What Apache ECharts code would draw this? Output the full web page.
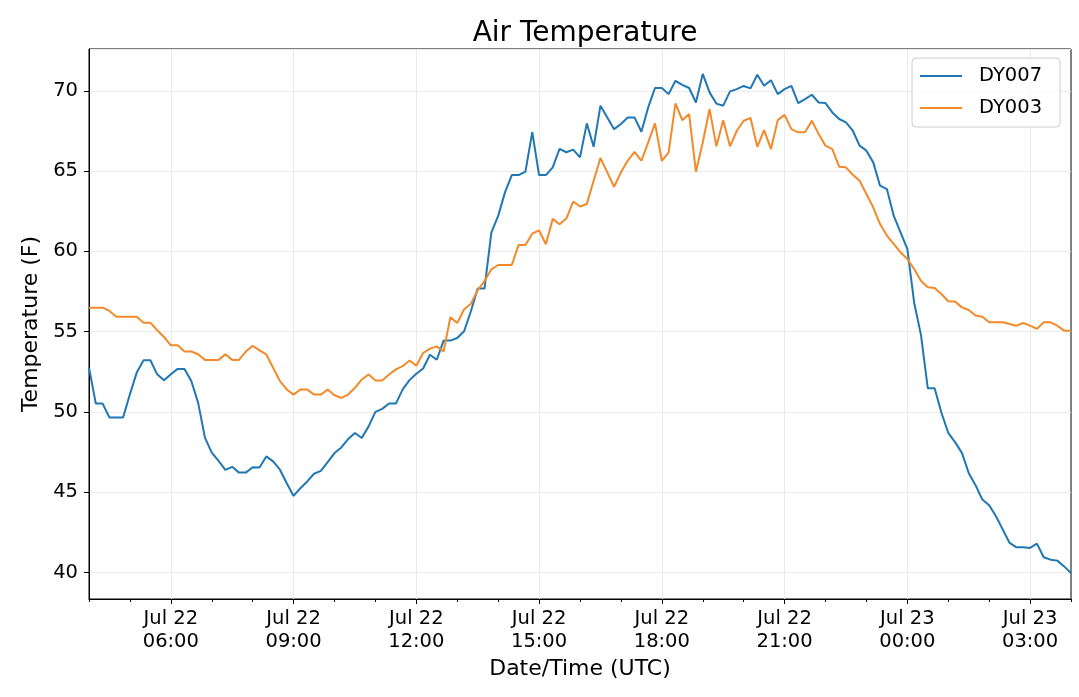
<!DOCTYPE html>
<html>
<head>
<meta charset="utf-8">
<title>Air Temperature</title>
<script src="https://cdn.jsdelivr.net/npm/echarts@6/dist/echarts.min.js"></script>
<style>
  html, body { margin: 0; padding: 0; background: #fff; }
  #chart { width: 1079px; height: 697px; }
</style>
</head>
<body>
<div id="chart"></div>
<script>
// readings every 10 minutes, Jul 22 04:00 -> Jul 23 04:00 (UTC)
var startHour = 4;
var stepMinutes = 10;

var dy007 = [
  52.76, 50.52, 50.52, 49.65, 49.65, 49.65, 51.1, 52.45, 53.22, 53.22, 52.34, 51.97,
  52.34, 52.68, 52.68, 51.93, 50.58, 48.4, 47.47, 46.95, 46.39, 46.58, 46.22, 46.22,
  46.56, 46.54, 47.23, 46.92, 46.4, 45.56, 44.77, 45.25, 45.67, 46.15, 46.33, 46.88,
  47.44, 47.79, 48.31, 48.69, 48.38, 49.1, 50.0, 50.19, 50.52, 50.52, 51.4, 51.98,
  52.38, 52.7, 53.56, 53.25, 54.44, 54.44, 54.6, 55.02, 56.27, 57.69, 57.69, 61.17,
  62.21, 63.67, 64.75, 64.75, 64.96, 67.42, 64.75, 64.75, 65.23, 66.38, 66.17, 66.33,
  65.85, 67.97, 66.51, 69.07, 68.34, 67.61, 67.93, 68.34, 68.34, 67.45, 68.96, 70.17,
  70.17, 69.79, 70.62, 70.37, 70.17, 69.27, 71.05, 69.9, 69.2, 69.07, 69.96, 70.1,
  70.3, 70.15, 71.0, 70.31, 70.66, 69.79, 70.1, 70.31, 69.23, 69.48, 69.75, 69.27,
  69.23, 68.65, 68.24, 68.03, 67.51, 66.58, 66.27, 65.54, 64.09, 63.88, 62.22, 61.18,
  60.15, 56.8, 54.8, 51.47, 51.47, 49.95, 48.7, 48.12, 47.45, 46.2, 45.44, 44.54,
  44.19, 43.5, 42.67, 41.84, 41.57, 41.57, 41.53, 41.8, 40.95, 40.8, 40.74, 40.38,
  39.97
];

var dy003 = [
  56.49, 56.49, 56.49, 56.29, 55.93, 55.93, 55.93, 55.93, 55.56, 55.56, 55.08, 54.67,
  54.15, 54.15, 53.76, 53.76, 53.59, 53.24, 53.24, 53.24, 53.59, 53.24, 53.24, 53.76,
  54.12, 53.83, 53.58, 52.75, 51.92, 51.4, 51.08, 51.4, 51.4, 51.08, 51.08, 51.4,
  51.04, 50.88, 51.08, 51.5, 52.02, 52.33, 51.96, 51.96, 52.33, 52.65, 52.85, 53.2,
  52.88, 53.67, 53.94, 54.08, 53.77, 55.9, 55.54, 56.38, 56.73, 57.58, 58.15, 58.88,
  59.15, 59.15, 59.15, 60.4, 60.4, 61.1, 61.31, 60.44, 62.02, 61.69, 62.04, 63.1,
  62.79, 62.95, 64.4, 65.81, 64.92, 64.02, 64.92, 65.64, 66.2, 65.64, 66.78, 67.97,
  65.64, 66.16, 69.21, 68.17, 68.55, 64.96, 66.78, 68.86, 66.54, 68.17, 66.54, 67.51,
  68.13, 68.3, 66.51, 67.55, 66.37, 68.17, 68.5, 67.61, 67.41, 67.41, 68.13, 67.3,
  66.58, 66.37, 65.27, 65.23, 64.77, 64.4, 63.57, 62.74, 61.7, 60.98, 60.46, 59.94,
  59.52, 58.9, 58.17, 57.76, 57.72, 57.34, 56.89, 56.87, 56.51, 56.35, 56.0, 55.93,
  55.58, 55.58, 55.58, 55.48, 55.37, 55.54, 55.37, 55.17, 55.58, 55.58, 55.37, 55.06,
  55.06
];

var tickLabels = [
  'Jul 22 06:00', 'Jul 22 09:00', 'Jul 22 12:00', 'Jul 22 15:00',
  'Jul 22 18:00', 'Jul 22 21:00', 'Jul 23 00:00', 'Jul 23 03:00'
];

// category labels for each reading
var times = [];
for (var i = 0; i < dy007.length; i++) {
  var m = startHour * 60 + i * stepMinutes;
  var day = 22 + Math.floor(m / 1440);
  m = m % 1440;
  var hh = ('0' + Math.floor(m / 60)).slice(-2);
  var mm = ('0' + (m % 60)).slice(-2);
  times.push('Jul ' + day + ' ' + hh + ':' + mm);
}

var font = 'DejaVu Sans';
var gridColor = '#ebebeb';

function isMajor(idx, val) {
  return tickLabels.indexOf(val) >= 0;
}
function isHour(idx, val) {
  return val.slice(-2) === '00';
}

var chart = echarts.init(document.getElementById('chart'));

var option = {
  animation: false,
  backgroundColor: '#fff',
  textStyle: { fontFamily: font },
  title: {
    // centred over the plot area, not the page
    text: 'Air Temperature',
    left: 580,
    textAlign: 'center',
    top: 15,
    textStyle: { fontFamily: font, fontSize: 28, fontWeight: 'normal', color: '#000' }
  },
  legend: {
    orient: 'vertical',
    left: 912,
    top: 58,
    padding: [8, 18, 9, 8],
    itemGap: 12,
    itemWidth: 42,
    itemHeight: 2,
    icon: 'rect',
    borderColor: '#cccccc',
    borderWidth: 1,
    borderRadius: 4,
    backgroundColor: 'rgba(255,255,255,0.8)',
    textStyle: { fontFamily: font, fontSize: 19.5, color: '#000', padding: [0, 0, 0, 12] },
    data: ['DY007', 'DY003']
  },
  grid: {
    left: 89,
    right: 8,
    top: 49,
    bottom: 98,
    show: true,
    borderColor: '#000',
    borderWidth: 1
  },
  xAxis: [
    {
      type: 'category',
      data: times,
      boundaryGap: false,
      position: 'bottom',
      name: 'Date/Time (UTC)',
      nameLocation: 'middle',
      nameGap: 54,
      nameTextStyle: { fontFamily: font, fontSize: 22, color: '#000' },
      axisLine: { show: true, lineStyle: { color: '#000', width: 1 } },
      axisTick: { show: true, interval: isMajor, length: 5, lineStyle: { color: '#000' } },
      axisLabel: {
        interval: isMajor,
        margin: 8,
        fontFamily: font,
        fontSize: 19.5,
        lineHeight: 23,
        color: '#000',
        formatter: function (val) {
          return val.slice(0, 6) + '\n' + val.slice(7);
        }
      },
      splitLine: { show: true, interval: isMajor, lineStyle: { color: gridColor, width: 1 } }
    },
    {
      // hourly minor ticks
      type: 'category',
      data: times,
      boundaryGap: false,
      position: 'bottom',
      axisLine: { show: false },
      axisTick: { show: true, interval: isHour, length: 3, lineStyle: { color: '#000' } },
      axisLabel: { show: false },
      splitLine: { show: false }
    }
  ],
  yAxis: {
    type: 'value',
    min: 38.35,
    max: 72.6,
    splitNumber: 6,
    name: 'Temperature (F)',
    nameLocation: 'middle',
    nameGap: 36,
    nameTextStyle: { fontFamily: font, fontSize: 22, color: '#000' },
    axisLine: { show: true, lineStyle: { color: '#000', width: 1 } },
    axisTick: { show: true, length: 5, lineStyle: { color: '#000' } },
    axisLabel: {
      margin: 11,
      fontFamily: font,
      fontSize: 19.5,
      color: '#000',
      showMinLabel: false,
      showMaxLabel: false
    },
    splitLine: { show: true, lineStyle: { color: gridColor, width: 1 } }
  },
  series: [
    {
      name: 'DY007',
      type: 'line',
      data: dy007,
      showSymbol: false,
      color: '#1f77b4',
      lineStyle: { width: 2, color: '#1f77b4' }
    },
    {
      name: 'DY003',
      type: 'line',
      data: dy003,
      showSymbol: false,
      color: '#f28a2a',
      lineStyle: { width: 2, color: '#f28a2a' }
    }
  ]
};

chart.setOption(option);
</script>
</body>
</html>
